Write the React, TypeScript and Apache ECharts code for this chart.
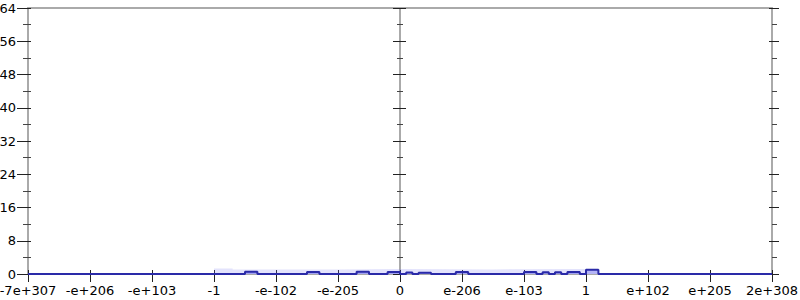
import React, { useEffect, useRef } from "react";
import * as echarts from "echarts";

const tickLabels = ["-7e+307", "-e+206", "-e+103", "-1", "-e-102", "-e-205", "0", "e-206", "e-103", "1", "e+102", "e+205", "2e+308"];
// histogram bins (left edge in tick units, width 0.1) that are not zero
const binStarts = [3.5, 3.6, 4.5, 4.6, 5.3, 5.4, 5.8, 5.9, 6.1, 6.3, 6.4, 6.9, 7.0, 8.0, 8.1, 8.3, 8.5, 8.7, 8.8, 9.0, 9.1];
const binValues = [0.55, 0.55, 0.5, 0.5, 0.55, 0.55, 0.5, 0.5, 0.35, 0.3, 0.3, 0.5, 0.5, 0.5, 0.5, 0.4, 0.45, 0.5, 0.5, 1.0, 1.0];
// faint band
const bandX = [3.0, 3.3, 5.0, 6.0, 7.5, 8.9, 9.0];
const bandV = [1.3, 1.1, 1.2, 1.1, 1.2, 1.2, 0];

const App: React.FC = () => {
  const ref = useRef<HTMLDivElement>(null);
  useEffect(() => {
    if (!ref.current) return;
    document.body.style.margin = "0";
    const chart = echarts.init(ref.current, undefined, { renderer: "svg" });
    const darkData: [number, number][] = [];
    for (let i = 0; i < 120; i++) {
      const x = i / 10;
      const k = binStarts.findIndex((b) => Math.abs(b - x) < 1e-6);
      darkData.push([x, k >= 0 ? binValues[k] : 0]);
    }
    darkData.push([12, 0]);
    const bandData = bandX.map((x, i) => [x, bandV[i]]);
    const font = "DejaVu Sans";
    const tickStyle = { color: "#222", width: 1 };
    const mkY = (extra: any) => ({
      type: "value",
      min: 0,
      max: 64,
      interval: 8,
      splitLine: { show: false },
      axisLine: { show: true, lineStyle: { color: "#aaaaaa", width: 2 } },
      ...extra,
    });
    chart.setOption({
      animation: false,
      grid: { left: 28, right: 28, top: 8, bottom: 26, outerBoundsMode: "none", containLabel: false },
      xAxis: [
        {
          type: "value",
          min: 0,
          max: 12,
          interval: 1,
          position: "bottom",
          splitLine: { show: false },
          axisLine: { show: true, onZero: false, lineStyle: { color: "#aaaaaa" } },
          axisTick: { show: true, length: 8, lineStyle: tickStyle },
          axisLabel: {
            color: "#000",
            fontFamily: font,
            fontSize: 13,
            margin: 10,
            showMinLabel: true,
            showMaxLabel: true,
            formatter: (v: number) => tickLabels[Math.round(v)] ?? "",
          },
        },
        {
          type: "value",
          min: 0,
          max: 12,
          interval: 1,
          position: "bottom",
          splitLine: { show: false },
          axisLine: { show: false, onZero: false },
          axisTick: { show: true, inside: true, length: 4, lineStyle: tickStyle },
          axisLabel: { show: false },
        },
        {
          type: "value",
          min: 0,
          max: 12,
          position: "top",
          splitLine: { show: false },
          axisLine: { show: true, onZero: false, lineStyle: { color: "#aaaaaa", width: 2 } },
          axisTick: { show: false },
          axisLabel: { show: false },
        },
      ],
      yAxis: [
        mkY({
          position: "left",
          axisTick: { show: false },
          minorTick: { show: false },
          axisLabel: { color: "#000", fontFamily: font, fontSize: 13, margin: 12 },
        }),
        mkY({
          position: "left",
          axisLine: { show: false },
          axisTick: { show: true, length: 11, lineStyle: tickStyle },
          minorTick: { show: true, splitNumber: 2, length: 5, lineStyle: { color: "#444" } },
          axisLabel: { show: false },
        }),
        mkY({
          position: "left",
          axisLine: { show: false },
          axisTick: { show: true, inside: true, length: 3, lineStyle: tickStyle },
          minorTick: { show: true, splitNumber: 2, length: 3, lineStyle: { color: "#444" } },
          axisLabel: { show: false },
        }),
        mkY({
          position: "left",
          offset: -372,
          axisTick: { show: true, length: 7, lineStyle: tickStyle },
          minorTick: { show: true, splitNumber: 2, length: 3, lineStyle: { color: "#444" } },
          axisLabel: { show: false },
        }),
        mkY({
          position: "left",
          offset: -372,
          axisLine: { show: false },
          axisTick: { show: true, inside: true, length: 6, lineStyle: tickStyle },
          minorTick: { show: true, splitNumber: 2, length: 3, lineStyle: { color: "#444" } },
          axisLabel: { show: false },
        }),
        mkY({
          position: "right",
          axisTick: { show: true, length: 7, lineStyle: tickStyle },
          minorTick: { show: true, splitNumber: 2, length: 5, lineStyle: { color: "#444" } },
          axisLabel: { show: false },
        }),
        mkY({
          position: "right",
          axisLine: { show: false },
          axisTick: { show: true, inside: true, length: 3, lineStyle: tickStyle },
          minorTick: { show: false },
          axisLabel: { show: false },
        }),
      ],
      series: [
        {
          type: "line",
          step: "end",
          data: bandData,
          symbol: "none",
          lineStyle: { width: 0, opacity: 0 },
          areaStyle: { color: "rgba(110,110,240,0.28)" },
          z: 1,
        },
        {
          type: "line",
          step: "end",
          data: darkData,
          symbol: "none",
          lineStyle: { color: "#2a2aa8", width: 2 },
          areaStyle: { color: "rgba(60,60,230,0.55)" },
          z: 3,
        },
      ],
    });
    return () => chart.dispose();
  }, []);
  return <div ref={ref} style={{ width: 800, height: 300 }} />;
};

export default App;
